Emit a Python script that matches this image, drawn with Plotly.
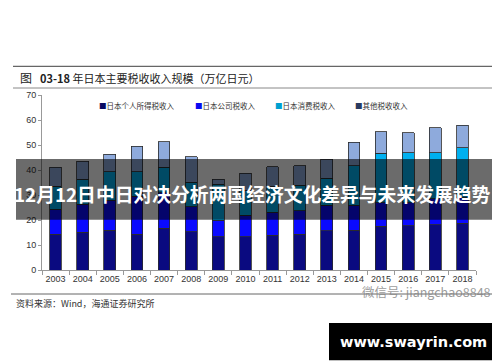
import plotly.graph_objects as go

years = [str(y) for y in range(2003, 2019)]
individual = [14.4, 15.1, 16.0, 14.4, 16.7, 15.4, 13.3, 13.3, 14.0, 14.3, 15.8, 16.0, 17.5, 17.8, 18.2, 18.8]
corporate = [9.9, 11.3, 12.0, 15.1, 14.3, 10.0, 6.7, 8.7, 9.1, 9.5, 10.2, 10.0, 9.5, 9.2, 10.3, 10.2]
consumption = [9.2, 10.0, 11.4, 9.9, 10.1, 9.7, 14.3, 10.0, 10.4, 10.2, 10.7, 15.8, 19.7, 20.0, 18.5, 20.0]
other = [7.6, 7.2, 6.9, 10.2, 10.3, 10.3, 2.0, 6.7, 7.9, 7.8, 7.7, 9.3, 8.7, 7.9, 9.9, 9.0]

series_names = ["日本个人所得税收入", "日本公司税收入", "日本消费税收入", "其他税收收入"]
series_colors = ["#0a0a80", "#0a0aff", "#00b0f0", "#8eaadc"]
series_values = [individual, corporate, consumption, other]

fig = go.Figure()
for name, color, vals in zip(series_names, series_colors, series_values):
    fig.add_trace(go.Bar(
        x=years, y=vals, name=name,
        marker=dict(color=color, line=dict(color="#2a2a2a", width=0.8)),
        showlegend=False,
    ))

FONT = "Noto Sans CJK SC"
fig.update_layout(
    width=500, height=362,
    margin=dict(l=34, r=32, t=87, b=100),
    paper_bgcolor="white", plot_bgcolor="white",
    barmode="stack", bargap=0.57,
    font=dict(family="Liberation Sans, Arial", size=9, color="#333333"),
    xaxis=dict(type="category", showline=True, linecolor="#999999", linewidth=1,
               ticks="outside", tickson="boundaries", ticklen=4, tickcolor="#999999",
               tickangle=0, tickfont=dict(size=9, color="#333333"), showgrid=False, fixedrange=True),
    yaxis=dict(range=[0, 70], dtick=10, showline=True, linecolor="#999999", linewidth=1,
               ticks="outside", ticklen=3, tickcolor="#999999", showgrid=False,
               zeroline=False, tickfont=dict(size=9, color="#333333"), fixedrange=True),
)

def px_x(x):
    return (x - 34) / 434.0

def px_y(y):
    return (262 - y) / 175.0

shapes = []
shapes.append(dict(type="line", xref="paper", yref="paper", x0=px_x(5), x1=px_x(491),
                   y0=px_y(58.3), y1=px_y(58.3), line=dict(color="#666666", width=1.2)))
shapes.append(dict(type="line", xref="paper", yref="paper", x0=px_x(5), x1=px_x(491),
                   y0=px_y(80), y1=px_y(80), line=dict(color="#888888", width=1)))
shapes.append(dict(type="line", xref="paper", yref="paper", x0=px_x(3), x1=px_x(491),
                   y0=px_y(286), y1=px_y(286), line=dict(color="#666666", width=1)))
fig.update_layout(shapes=shapes)

ann = []
ann.append(dict(text="图", x=px_x(10), y=px_y(70), xref="paper", yref="paper",
                xanchor="left", yanchor="middle", showarrow=False,
                font=dict(family=FONT, size=12, color="#222222")))
ann.append(dict(text="<b>03-18</b> 年日本主要税收收入规模（万亿日元）", x=px_x(30), y=px_y(70),
                xref="paper", yref="paper", xanchor="left", yanchor="middle", showarrow=False,
                font=dict(family=FONT, size=11, color="#222222")))
leg_x = [89, 185, 265, 345]
legend_sq = ["#0a0a60", "#0a0af0", "#00a0d0", "#2a3a60"]
for name, col, lx in zip(series_names, legend_sq, leg_x):
    ann.append(dict(text=f'<span style="color:{col}">■</span>{name}', x=px_x(lx), y=px_y(97.5),
                    xref="paper", yref="paper", xanchor="left", yanchor="middle", showarrow=False,
                    font=dict(family=FONT, size=7.5, color="#333333")))
ann.append(dict(text="资料来源：Wind，海通证券研究所", x=px_x(6), y=px_y(295.5), xref="paper", yref="paper",
                xanchor="left", yanchor="middle", showarrow=False,
                font=dict(family=FONT, size=9, color="#333333")))
ann.append(dict(text="微信号: jiangchao8848", x=px_x(352), y=px_y(283.5), xref="paper", yref="paper",
                xanchor="left", yanchor="middle", showarrow=False,
                font=dict(family=FONT, size=12.5, color="rgba(130,130,130,0.8)")))
fig.update_layout(annotations=ann)

fig.add_shape(type="rect", xref="paper", yref="paper", x0=px_x(8), x1=px_x(491.5),
              y0=px_y(211.7), y1=px_y(151), fillcolor="rgba(0,0,0,0.58)", line=dict(width=0),
              layer="above")
fig.add_shape(type="rect", xref="paper", yref="paper", x0=px_x(321), x1=px_x(491),
              y0=px_y(352.3), y1=px_y(315), fillcolor="black", line=dict(width=0), layer="above")
fig.add_annotation(text="<b>12月12日中日对决分析两国经济文化差异与未来发展趋势</b>", x=px_x(244), y=px_y(185),
                   xref="paper", yref="paper", xanchor="center", yanchor="middle", showarrow=False,
                   font=dict(family=FONT, size=18.8, color="white"))
fig.add_annotation(text="<b>www.swayrin.com</b>", x=px_x(405.5), y=px_y(334), xref="paper", yref="paper",
                   xanchor="center", yanchor="middle", showarrow=False,
                   font=dict(family="DejaVu Sans", size=14.5, color="white"))

fig.write_html("out.html")
